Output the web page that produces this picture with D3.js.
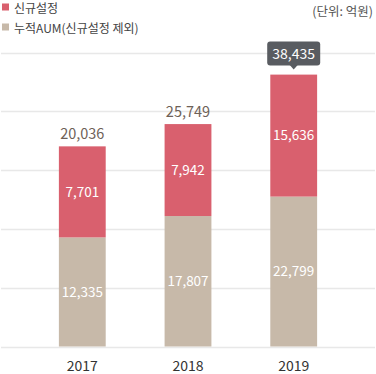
<!DOCTYPE html>
<html>
<head>
<meta charset="utf-8">
<script src="https://cdn.jsdelivr.net/npm/d3@7"></script>
<style>
  body { margin: 0; background: #fff; }
  svg { display: block; font-family: "Noto Sans CJK KR", "Noto Sans", sans-serif; }
</style>
</head>
<body>
<script>
const years = ['2017', '2018', '2019'];
const newSetup = [7701, 7942, 15636];     // 신규설정
const cumAUM = [12335, 17807, 22799];     // 누적AUM(신규설정 제외)
const totals = [20036, 25749, 38435];
const gridLevels = [0, 1, 2, 3, 4, 5];
const legendNames = ['신규설정', '누적AUM(신규설정 제외)'];

let width = 376, height = 374;
let baseline = 346.5;
let red = '#d9606e', beige = '#c7b9a9';

let svg = d3.select('body').append('svg')
  .attr('width', width)
  .attr('height', height);

let x = d3.scaleBand().domain(years).range([0, width]).padding(0.557);
// bars use a floor height, so each segment is a min height plus a share of its value
let segH = d3.scaleLinear().domain([0, 10000]).range([61, 100]);
let gy = d3.scaleLinear().domain([0, 5]).range([baseline, 52.5]);

// grid
svg.append('g').selectAll('line')
  .data(gridLevels)
  .enter().append('line')
  .attr('x1', 1).attr('x2', width - 1)
  .attr('y1', d => Math.round(gy(d)) + 0.5)
  .attr('y2', d => Math.round(gy(d)) + 0.5)
  .attr('stroke', '#e8e8e8')
  .attr('stroke-width', 1.5);

let data = years.map((y, i) => ({
  year: y, cum: cumAUM[i], add: newSetup[i], total: totals[i],
  cumTop: baseline - segH(cumAUM[i]),
  top: baseline - segH(cumAUM[i]) - segH(newSetup[i])
}));
let maxTotal = d3.max(totals);

let bar = svg.append('g').selectAll('g')
  .data(data)
  .enter().append('g');

bar.append('rect')
  .attr('x', d => x(d.year))
  .attr('width', x.bandwidth())
  .attr('y', d => d.cumTop)
  .attr('height', d => baseline - d.cumTop)
  .attr('fill', beige);

bar.append('rect')
  .attr('x', d => x(d.year))
  .attr('width', x.bandwidth())
  .attr('y', d => d.top)
  .attr('height', d => d.cumTop - d.top)
  .attr('fill', red);

let fmt = d3.format(',');

bar.append('text')
  .attr('x', d => x(d.year) + x.bandwidth() / 2)
  .attr('y', d => (baseline + d.cumTop) / 2)
  .attr('dy', '0.35em')
  .attr('text-anchor', 'middle')
  .attr('fill', '#fff')
  .style('font-size', '13.5px')
  .text(d => fmt(d.cum));

bar.append('text')
  .attr('x', d => x(d.year) + x.bandwidth() / 2)
  .attr('y', d => (d.cumTop + d.top) / 2)
  .attr('dy', '0.35em')
  .attr('text-anchor', 'middle')
  .attr('fill', '#fff')
  .style('font-size', '13.5px')
  .text(d => fmt(d.add));

// total labels
bar.filter(d => d.total !== maxTotal).append('text')
  .attr('x', d => x(d.year) + x.bandwidth() / 2)
  .attr('y', d => d.top - 7)
  .attr('text-anchor', 'middle')
  .attr('fill', '#6e6157')
  .style('font-size', '14.5px')
  .text(d => fmt(d.total));

// callout for the biggest one
let tip = bar.filter(d => d.total === maxTotal);
tip.append('rect')
  .attr('x', d => x(d.year) + x.bandwidth() / 2 - 26.5)
  .attr('y', d => d.top - 33)
  .attr('width', 53)
  .attr('height', 24)
  .attr('rx', 3)
  .attr('fill', '#595c61');
tip.append('path')
  .attr('d', d => {
    let cx = x(d.year) + x.bandwidth() / 2, b = d.top - 9.5;
    return `M${cx - 4},${b} L${cx + 4},${b} L${cx},${b + 4.5} Z`;
  })
  .attr('fill', '#595c61');
tip.append('text')
  .attr('x', d => x(d.year) + x.bandwidth() / 2)
  .attr('y', d => d.top - 16)
  .attr('text-anchor', 'middle')
  .attr('fill', '#fff')
  .style('font-size', '14px')
  .text(d => fmt(d.total));

// x axis labels
svg.append('g').selectAll('text')
  .data(years)
  .enter().append('text')
  .attr('x', d => x(d) + x.bandwidth() / 2)
  .attr('y', 371)
  .attr('text-anchor', 'middle')
  .attr('fill', '#333')
  .style('font-size', '14px')
  .text(d => d);

// legend
let legend = svg.append('g').selectAll('g')
  .data(legendNames)
  .enter().append('g')
  .attr('transform', (d, i) => 'translate(2,' + (3.5 + i * 20) + ')');
legend.append('rect')
  .attr('width', 7).attr('height', 7)
  .attr('fill', (d, i) => i === 0 ? red : beige);
legend.append('text')
  .attr('x', 12)
  .attr('y', 9.5)
  .attr('fill', '#444')
  .style('font-size', '12px')
  .text(d => d);

svg.append('text')
  .attr('x', 373)
  .attr('y', 16)
  .attr('text-anchor', 'end')
  .attr('fill', '#555')
  .style('font-size', '12.5px')
  .text('(단위: 억원)');
</script>
</body>
</html>
